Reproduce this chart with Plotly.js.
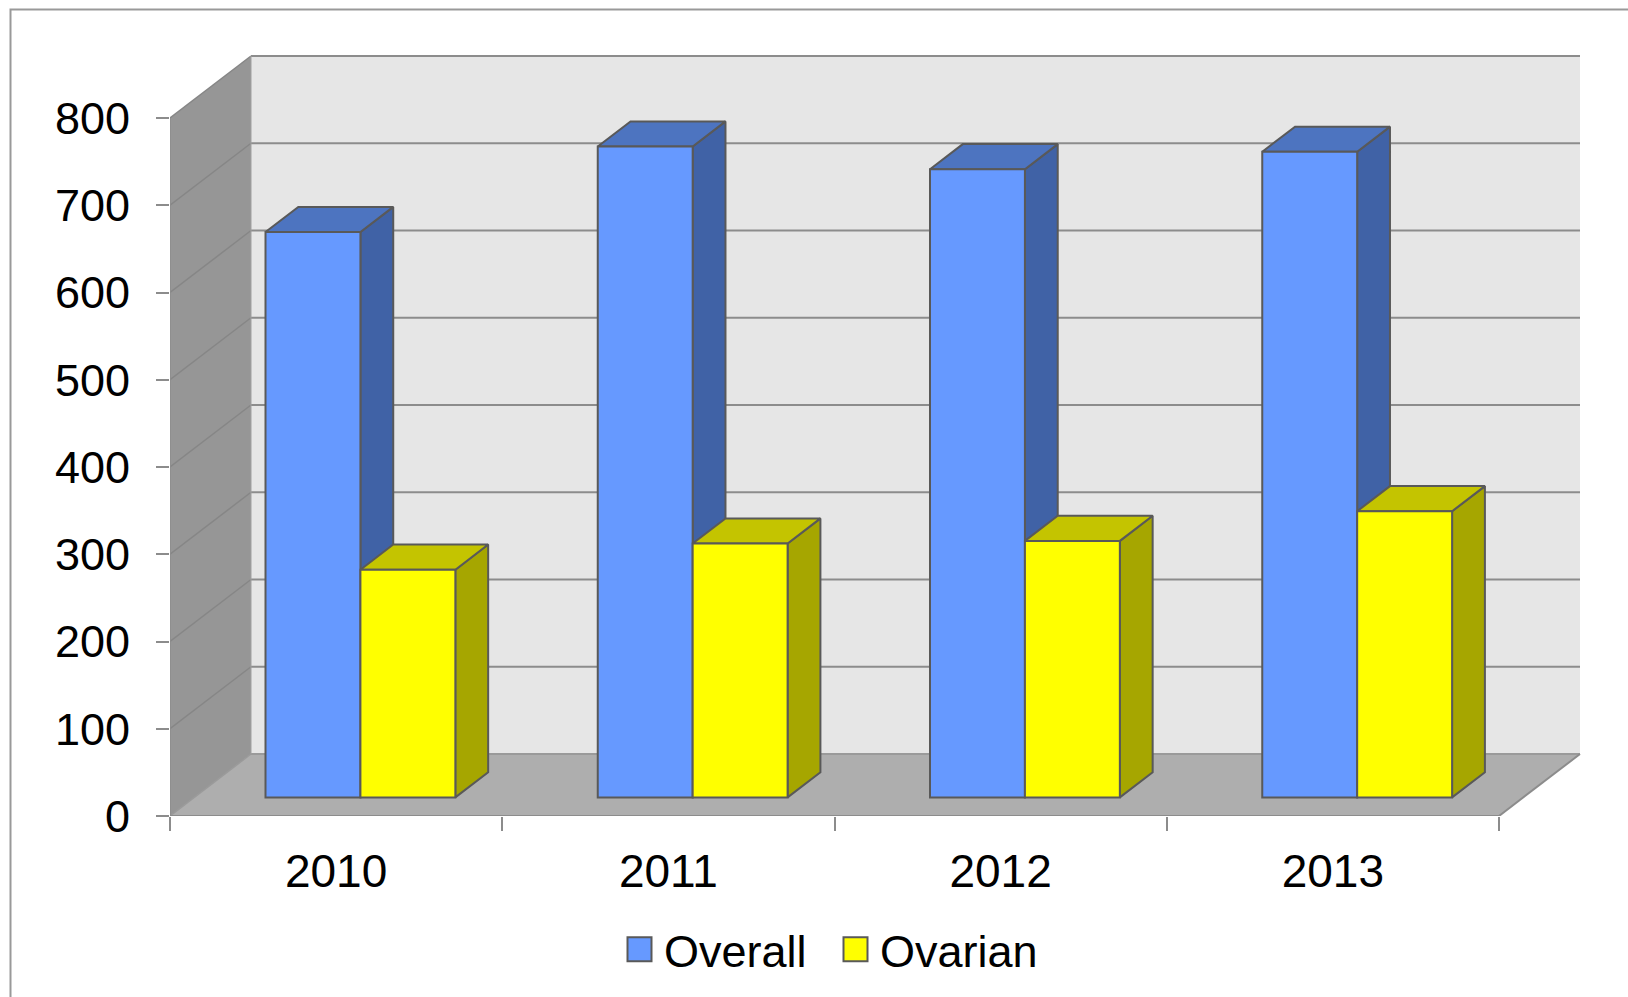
<!DOCTYPE html>
<html><head><meta charset="utf-8">
<script src="https://cdn.plot.ly/plotly-3.0.1.min.js"></script>
<style>
html,body{margin:0;padding:0;background:#fff;overflow:hidden}
#chart{width:1628px;height:997px}
.legendpoints path{d:path("M12,12H-12V-12H12Z")}
</style></head><body><div id="chart"></div>
<script>
const years = ["2010","2011","2012","2013"];
const overallValues = [648,746,720,740];
const ovarianValues = [261,291,294,328];
const yTicks = [0,100,200,300,400,500,600,700,800];

const FONT = '"Liberation Sans", Arial, sans-serif';
const W = 1628, H = 997;
const M = {l:170, r:38, t:50, b:181, autoexpand:false};
const plotW = W - M.l - M.r, plotH = H - M.t - M.b;
const xMax = plotW / 332.25, yMax = plotH / 0.8725;
const DX = 81 / 332.25, DY = 62 / 0.8725;     // wall depth projected in axis units
const barW = 1 / 3.5, frontDepth = 0.3, barDepth = 0.405;
const nCat = years.length;

const center = i => i + 0.5 + frontDepth * DX;
const poly = pts => 'M' + pts.map(p => p.join(',')).join('L') + 'Z';
const seg = (a,b,color,width) => ({type:'line',xref:'x',yref:'y',layer:'below',x0:a[0],y0:a[1],x1:b[0],y1:b[1],line:{color,width}});
const fillShape = (pts,color) => ({type:'path',xref:'x',yref:'y',layer:'below',path:poly(pts),fillcolor:color,line:{width:0}});

const shapes = [
  fillShape([[DX,DY],[nCat+DX,DY],[nCat+DX,800+DY],[DX,800+DY]], '#e6e6e6'),
  fillShape([[0,0],[DX,DY],[DX,800+DY],[0,800]], '#969696'),
  fillShape([[0,0],[nCat,0],[nCat+DX,DY],[DX,DY]], '#aeaeae'),
];
yTicks.forEach(v => {
  if (v > 0) {
    shapes.push(seg([DX,v+DY],[nCat+DX,v+DY],'#8c8c8c',2));
    shapes.push(seg([0,v],[DX,v+DY],'#868686',1.5));
  }
});
shapes.push(seg([DX,DY],[nCat+DX,DY],'#9a9a9a',2));
shapes.push(seg([0,0],[DX,DY],'#9a9a9a',1.5));
shapes.push(seg([nCat,0],[nCat+DX,DY],'#8c8c8c',2));
shapes.push(seg([0,0],[nCat,0],'#8c8c8c',2));
shapes.push(seg([0,0],[0,800],'#8c8c8c',1.5));
shapes.push(seg([DX,0+DY],[DX,800+DY],'#a0a0a0',1));
// outer chart frame (runs off the right and bottom edges)
const px = x => (x - M.l) / plotW, py = y => 1 - (y - M.t) / plotH;
shapes.push({type:'path',xref:'paper',yref:'paper',layer:'below',
  path:`M${px(10.5)},${py(H+5)}L${px(10.5)},${py(9.5)}L${px(W+5)},${py(9.5)}`,
  line:{color:'#999999',width:2}});

function faces(values, side) {
  const sx = [], sy = [], tx = [], ty = [];
  const base = frontDepth * DY, dx = barDepth * DX, dy = barDepth * DY;
  values.forEach((v,i) => {
    const l = center(i) + (side < 0 ? -barW : 0), r = l + barW, top = base + v;
    sx.push(r,r+dx,r+dx,r,r,null); sy.push(base,base+dy,top+dy,top,base,null);
    tx.push(l,l+dx,r+dx,r,l,null); ty.push(top,top+dy,top+dy,top,top,null);
  });
  return {sx,sy,tx,ty};
}
const faceTrace = (x,y,color) => ({type:'scatter',mode:'lines',x,y,fill:'toself',fillcolor:color,
  line:{color:'#595959',width:2},showlegend:false,hoverinfo:'skip',xaxis:'x',yaxis:'y'});
const a = faces(overallValues,-1), b = faces(ovarianValues,1);
const barTrace = (name,values,side,color) => ({type:'bar',name,
  x:values.map((_,i)=>center(i)+side*barW/2), y:values, base:values.map(()=>frontDepth*DY),
  width:barW, xaxis:'x2', yaxis:'y2', hoverinfo:'skip',
  marker:{color,line:{color:'#595959',width:2}}});

const traces = [
  faceTrace(a.sx,a.sy,'#4062a6'), faceTrace(a.tx,a.ty,'#4d74c0'),
  faceTrace(b.sx,b.sy,'#a6a600'), faceTrace(b.tx,b.ty,'#c4c400'),
  barTrace('Overall',overallValues,-1,'#6699ff'),
  barTrace('Ovarian',ovarianValues,1,'#ffff00'),
];

const catTicks = years.map((_,i)=>i+0.5);
const edgeTicks = [0,1,2,3,4];
const layout = {
  width:W,height:H,margin:M,paper_bgcolor:'#fff',plot_bgcolor:'#fff',
  font:{family:FONT,size:45,color:'#000'},
  barmode:'overlay',showlegend:true,shapes,
  xaxis:{range:[0,xMax],tickmode:'array',tickvals:edgeTicks,ticktext:edgeTicks.map(()=>''),
    ticks:'outside',ticklen:14,tickwidth:2,tickcolor:'#8c8c8c',showgrid:false,zeroline:false,showline:false,fixedrange:true},
  yaxis:{range:[0,yMax],tickmode:'array',tickvals:yTicks,ticktext:yTicks.map(String),
    ticks:'outside',ticklen:13,tickwidth:2,tickcolor:'#8c8c8c',ticklabelstandoff:17,
    tickfont:{family:FONT,size:45,color:'#000'},showgrid:false,zeroline:false,showline:false,fixedrange:true},
  xaxis2:{range:[0,xMax],overlaying:'x',anchor:'y2',side:'bottom',tickmode:'array',tickvals:catTicks,ticktext:years,
    ticks:'',ticklabelstandoff:24,tickfont:{family:FONT,size:46,color:'#000'},showgrid:false,zeroline:false,showline:false,fixedrange:true},
  yaxis2:{range:[0,yMax],overlaying:'y',anchor:'x2',visible:false,fixedrange:true},
  legend:{orientation:'h',x:(615-M.l)/plotW,xanchor:'left',y:py(913.5),yanchor:'top',
    font:{family:FONT,size:45,color:'#000'},itemwidth:39,entrywidth:162,entrywidthmode:'pixels',
    bgcolor:'rgba(0,0,0,0)',borderwidth:0,itemclick:false,itemdoubleclick:false}
};
Plotly.newPlot('chart',traces,layout,{displayModeBar:false});
</script></body></html>
